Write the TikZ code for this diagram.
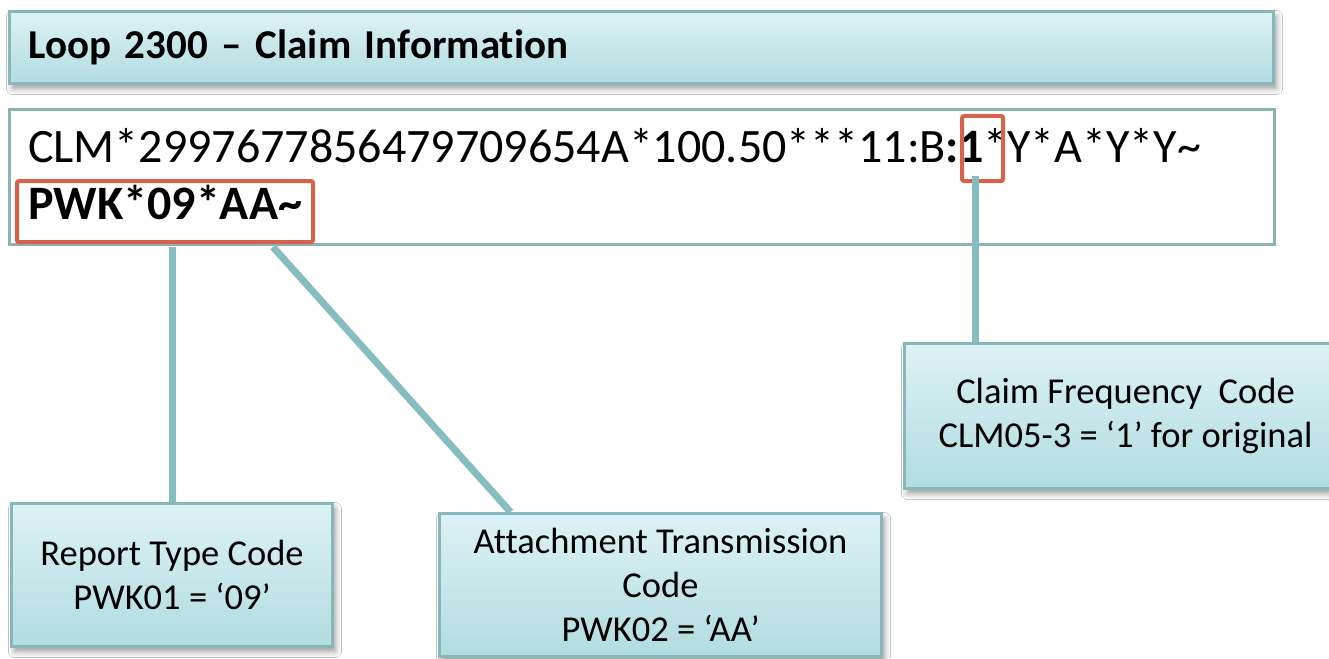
\documentclass[tikz,border=0pt]{standalone}
\usepackage{fontspec}
\setmainfont{Carlito}[Ligatures=NoCommon]
\usetikzlibrary{calc,shadows.blur}
\definecolor{boxtop}{HTML}{DDF2F4}
\definecolor{boxbot}{HTML}{B1DCDF}
\definecolor{boxedge}{HTML}{88B7B9}
\definecolor{segedge}{HTML}{8DB2B3}
\definecolor{linkcol}{HTML}{86BDC0}
\definecolor{markred}{HTML}{D3644B}
\begin{document}
\begin{tikzpicture}[x=1pt,y=-1pt,
  softshadow/.style={blur shadow={shadow xshift=3pt,shadow yshift=-5pt,
      shadow blur radius=6pt,shadow opacity=40}},
  infobox/.style={draw=boxedge,line width=3pt,top color=boxtop,bottom color=boxbot,
      softshadow,anchor=north west,align=center,inner sep=0pt,
      font=\fontsize{36.5}{44}\selectfont},
  segbox/.style={draw=segedge,line width=3pt,fill=white,anchor=north west,inner sep=0pt},
  segtext/.style={anchor=base west,inner sep=0pt,font=\fontsize{48}{57}\selectfont},
  markbox/.style={draw=markred,line width=4pt,rounded corners=2pt,inner sep=0pt},
  link/.style={draw=linkcol,line width=7pt}]
\clip (0,0) rectangle (1329,658);
\fill[white] (0,0) rectangle (1329,658);

% heading bar
\node[infobox,minimum width=1264pt,minimum height=72pt,text width=1226pt,
      inner xsep=19pt,align=left,font=\fontsize{41}{49}\selectfont\bfseries]
  (title) at (8,10) {Loop 2300 -- Claim Information};

% segment text
\node[segbox,minimum width=1265pt,minimum height=135pt] (seg) at (8,108) {};
\node[segtext] (clm) at (28,162)
  {CLM*2997677856479709654A*100.50***11:B\textbf{:1}*Y*A*Y*Y\textasciitilde};
\node[segtext,font=\fontsize{48}{57}\selectfont\bfseries] (pwk) at (28,219)
  {PWK*09*AA\textasciitilde};

% highlighted elements
\node[markbox,minimum width=296pt,minimum height=61pt] (pwkbox) at (165,211.5) {};
\node[markbox,minimum width=41pt,minimum height=65pt] (onebox) at (982.5,148.5) {};

% call-out boxes
\node[infobox,minimum width=442pt,minimum height=145pt] (claim) at (903,342)
  {Claim Frequency\ \ Code\\CLM05-3 = ‘1’ for original};
\node[infobox,minimum width=321pt,minimum height=143pt] (report) at (10,502)
  {Report Type Code\\PWK01 = ‘09’};
\node[infobox,minimum width=442pt,minimum height=143pt] (attach) at (438,512)
  {Attachment Transmission\\Code\\PWK02 = ‘AA’};

% connectors
\draw[link] ([yshift=-3pt]pwkbox.south -| report.north) -- (report.north);
\draw[link] ($(pwkbox.south west)!0.86!(pwkbox.south east)+(0,3)$)
  -- ($(attach.north west)!0.163!(attach.north east)$);
\draw[link] ([xshift=-7pt,yshift=7pt]onebox.south) -- ([xshift=-7pt]onebox.south |- claim.north);
\end{tikzpicture}
\end{document}
